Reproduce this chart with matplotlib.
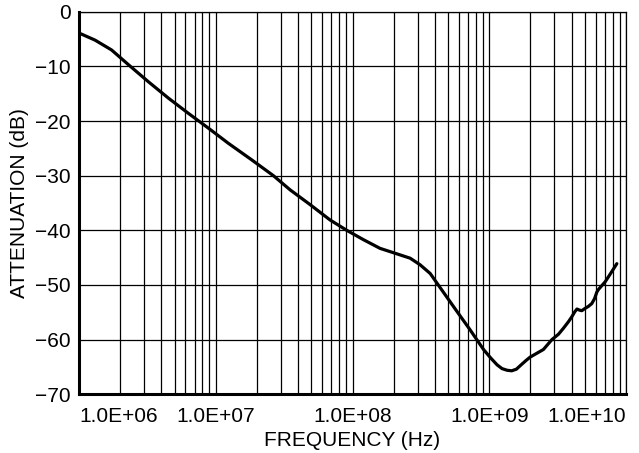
import numpy as np
import matplotlib
matplotlib.use("Agg")
import matplotlib.pyplot as plt
from matplotlib.ticker import LogLocator, NullFormatter

plt.rcParams['font.family'] = ['Liberation Sans', 'DejaVu Sans']

# attenuation curve
freq_hz = [1.00e6, 1.31e6, 1.73e6, 2.30e6, 3.21e6, 4.50e6, 6.31e6, 8.83e6,
           1.24e7, 1.83e7, 2.64e7, 3.50e7, 4.90e7, 6.85e7, 9.08e7,
           1.20e8, 1.59e8, 2.11e8, 2.64e8, 3.12e8, 3.70e8, 4.38e8, 5.79e8,
           7.24e8, 9.08e8, 1.02e9, 1.14e9, 1.24e9, 1.35e9, 1.46e9, 1.58e9,
           1.73e9, 1.86e9, 1.99e9, 2.19e9, 2.49e9, 2.87e9, 3.21e9, 3.49e9,
           3.80e9, 4.02e9, 4.22e9, 4.38e9, 4.57e9, 4.75e9, 5.01e9, 5.32e9,
           5.62e9, 5.89e9, 6.12e9, 6.30e9, 6.61e9, 7.05e9, 7.76e9, 8.57e9]
atten_db = [-3.9, -5.2, -7.0, -9.7, -12.8, -15.8, -18.6, -21.3,
            -24.1, -27.1, -30.0, -32.6, -35.3, -38.1, -40.0,
            -41.7, -43.3, -44.3, -45.1, -46.3, -47.9, -50.5, -54.8,
            -58.2, -61.8, -63.3, -64.6, -65.3, -65.6, -65.7, -65.4,
            -64.5, -63.8, -63.2, -62.6, -61.8, -60.0, -59.0, -57.9,
            -56.7, -55.8, -54.9, -54.4, -54.6, -54.7, -54.3, -53.9,
            -53.4, -52.5, -51.3, -50.8, -50.2, -49.4, -47.8, -46.1]

xticks = [1e6, 1e7, 1e8, 1e9, 1e10]
xtick_labels = ["1.0E+06", "1.0E+07", "1.0E+08", "1.0E+09", "1.0E+10"]
yticks = [0, -10, -20, -30, -40, -50, -60, -70]

fig = plt.figure(figsize=(6.39, 4.53), dpi=100)
ax = fig.add_axes([79/639, 1-394.3/453, (626-79)/639, (394.3-11.7)/453])

ax.set_xscale('log')
ax.set_xlim(1e6, 1e10)
ax.set_ylim(-70, 0)

ax.plot(freq_hz, atten_db, color='black', lw=2.3, solid_capstyle='round',
        solid_joinstyle='round', zorder=3)

ax.xaxis.set_major_locator(LogLocator(base=10, numticks=20))
ax.xaxis.set_minor_locator(LogLocator(base=10, subs=np.arange(2, 10), numticks=20))
ax.xaxis.set_minor_formatter(NullFormatter())
ax.set_xticks(xticks)
ax.set_xticklabels(xtick_labels)
ax.set_yticks(yticks)

ax.grid(True, which='major', axis='both', color='black', lw=0.9)
ax.grid(True, which='minor', axis='x', color='black', lw=0.9)

ax.tick_params(axis='both', which='both', length=0, labelsize=15)
ax.tick_params(axis='x', pad=9)
ax.tick_params(axis='y', pad=6)

labs = ax.get_xticklabels()
labs[0].set_horizontalalignment('left')
labs[-1].set_horizontalalignment('right')

for s in ['left', 'bottom']:
    ax.spines[s].set_linewidth(2.2)
for s in ['top', 'right']:
    ax.spines[s].set_linewidth(0.9)

ax.set_xlabel("FREQUENCY (Hz)", fontsize=15, labelpad=4)
ax.set_ylabel("ATTENUATION (dB)", fontsize=15, labelpad=4)

fig.savefig("out.png", dpi=100)
